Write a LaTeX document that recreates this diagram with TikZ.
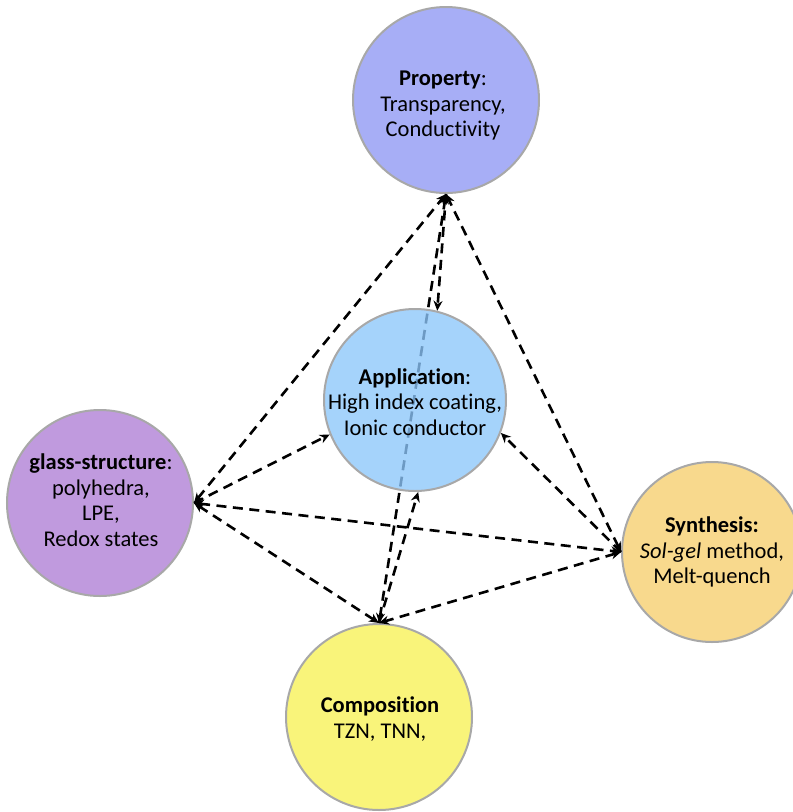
\documentclass[tikz,border=0pt]{standalone}
\usepackage{fontspec}
\setmainfont[Ligatures={NoCommon}]{Carlito}
\usetikzlibrary{arrows.meta}
\definecolor{propc}{RGB}{167,174,246}
\definecolor{appc}{RGB}{140,198,250}
\definecolor{glassc}{RGB}{192,154,222}
\definecolor{sync}{RGB}{248,217,141}
\definecolor{compc}{RGB}{249,244,122}
\definecolor{bordc}{RGB}{168,168,168}
\begin{document}
\begin{tikzpicture}[x=1pt,y=-1pt,
  blob/.style={circle,draw=bordc,line width=2pt,inner sep=0pt,minimum size=#1},
  lbl/.style={align=center,inner sep=0pt,font=\fontsize{22.5}{25.5}\selectfont},
  linkboth/.style={line width=2.6pt,dash pattern=on 10pt off 6.5pt,
     {Stealth[length=10pt,width=9pt]}-{Stealth[length=10pt,width=9pt]}},
  linkto/.style={line width=2.6pt,dash pattern=on 10pt off 6.5pt,
     -{Stealth[length=10pt,width=9pt]}}
]
\useasboundingbox (0,0) rectangle (793,812);
\node[blob=186pt,fill=propc] (P) at (446,100) {};
\node[blob=186pt,fill=glassc] (G) at (100,503) {};
\node[blob=180pt,fill=sync] (S) at (712,552) {};
\node[blob=186pt,fill=compc] (C) at (379,717) {};
% line passing behind the application circle
\draw[linkboth] (C.north) -- (P.south);
\node[blob=182pt,fill=appc,fill opacity=0.78] (A) at (415,400) {};
% outer links
\draw[linkboth] (G.east) -- (P.south);
\draw[linkboth] (S.west) -- (P.south);
\draw[linkboth] (G.east) -- (S.west);
\draw[linkboth] (G.east) -- (C.north);
\draw[linkboth] (S.west) -- (C.north);
% links to application
\draw[linkto] (P.south) -- (A.76);
\draw[linkto] (G.east) -- (A.202);
\draw[linkto] (S.west) -- (A.339);
\draw[linkto] (C.north) -- (A.272);
% texts
\node[lbl] (Pt) at (443,106) {\textbf{Property}:\\Transparency,\\Conductivity};
\node[lbl] (At) at (415,402) {\textbf{Application}:\\High index coating,\\Ionic conductor};
\node[lbl] (Gt) at (101,500) {\textbf{glass-structure}:\\polyhedra,\\LPE,\\Redox states};
\node[lbl] (St) at (712,552) {\textbf{Synthesis:}\\\textit{Sol-gel} method,\\Melt-quench};
\node[lbl] (Ct) at (380,719) {\textbf{Composition}\\TZN, TNN,};
\end{tikzpicture}
\end{document}
